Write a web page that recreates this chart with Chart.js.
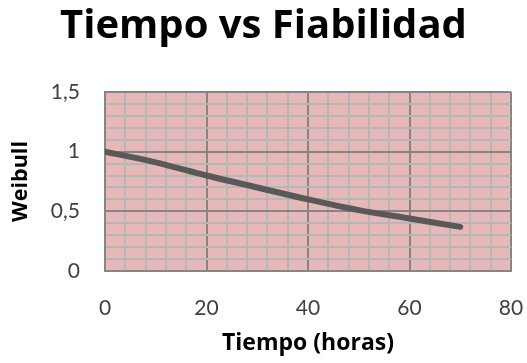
<!DOCTYPE html>
<html>
<head>
<meta charset="utf-8">
<script src="https://cdn.jsdelivr.net/npm/chart.js@4/dist/chart.umd.min.js"></script>
<style>
  html, body { margin: 0; padding: 0; background: #ffffff; }
  #wrap { width: 527px; height: 363px; }
</style>
</head>
<body>
<div id="wrap"><canvas id="c" width="527" height="363"></canvas></div>
<script>
// Tiempo (horas) vs fiabilidad Weibull
const tiempo  = [0, 10, 20, 30, 40, 50, 60, 70];
const weibull = [1.00, 0.91, 0.80, 0.70, 0.60, 0.51, 0.44, 0.37];
const xTicks  = [0, 20, 40, 60, 80];
const yTicks  = [0, 0.5, 1, 1.5];

const TICK_FONT = 'Lato, "Open Sans", sans-serif';
const BOLD_FONT = '"Open Sans", Lato, sans-serif';
const MAJOR = '#858585';
const MINOR = '#b6b6b6';

const isMajor = (v, list) => list.some(t => Math.abs(t - v) < 1e-6);

// pink plot area fill
const plotBg = {
  id: 'plotBg',
  beforeDraw(chart) {
    const { ctx, chartArea: a } = chart;
    ctx.save();
    ctx.fillStyle = '#e6b8b7';
    ctx.fillRect(a.left, a.top, a.right - a.left, a.bottom - a.top);
    ctx.restore();
  }
};

new Chart(document.getElementById('c'), {
  type: 'line',
  data: {
    datasets: [{
      data: tiempo.map((t, i) => ({ x: t, y: weibull[i] })),
      borderColor: '#595959',
      borderWidth: 6,
      borderCapStyle: 'round',
      borderJoinStyle: 'round',
      cubicInterpolationMode: 'monotone',
      pointRadius: 0,
      fill: false
    }]
  },
  options: {
    responsive: false,
    animation: false,
    layout: { padding: { left: 0, right: 0, top: 0, bottom: 0 } },
    plugins: {
      legend: { display: false },
      tooltip: { enabled: false },
      title: {
        display: true,
        text: 'Tiempo vs Fiabilidad',
        color: '#000000',
        font: { family: BOLD_FONT, size: 40, weight: 'bold', lineHeight: 1.2 },
        padding: { top: 3, bottom: 41 }
      }
    },
    scales: {
      x: {
        type: 'linear',
        min: 0, max: 80,
        afterBuildTicks(scale) {
          const t = [];
          for (let v = 0; v <= 80; v += 4) t.push({ value: v });
          scale.ticks = t;
        },
        afterFit(scale) {
          scale.height = 92;
          scale.paddingLeft = 0;
          scale.paddingRight = 16;
        },
        ticks: {
          autoSkip: false,
          maxRotation: 0,
          padding: 25,
          color: '#404040',
          font: { family: TICK_FONT, size: 21 },
          callback: v => isMajor(v, xTicks) ? String(v) : ''
        },
        grid: {
          drawTicks: false,
          color: c => isMajor(c.tick.value, xTicks) ? MAJOR : MINOR,
          lineWidth: 2
        },
        border: { display: true, color: MAJOR, width: 2 },
        title: {
          display: true,
          text: 'Tiempo (horas)',
          color: '#000000',
          font: { family: BOLD_FONT, size: 23, weight: 'bold', lineHeight: 1.2 },
          padding: { top: 0, bottom: 6 }
        }
      },
      y: {
        type: 'linear',
        min: 0, max: 1.5,
        afterBuildTicks(scale) {
          const t = [];
          for (let i = 0; i <= 15; i++) t.push({ value: i / 10 });
          scale.ticks = t;
        },
        afterFit(scale) { scale.width = 105; },
        ticks: {
          autoSkip: false,
          padding: 25,
          color: '#404040',
          font: { family: TICK_FONT, size: 21 },
          callback: v => isMajor(v, yTicks) ? String(v).replace('.', ',') : ''
        },
        grid: {
          drawTicks: false,
          color: c => isMajor(c.tick.value, yTicks) ? MAJOR : MINOR,
          lineWidth: 2
        },
        border: { display: true, color: MAJOR, width: 2 },
        title: {
          display: true,
          text: 'Weibull',
          color: '#000000',
          font: { family: BOLD_FONT, size: 21.5, weight: 'bold', lineHeight: 1.2 },
          padding: { top: 8, bottom: 0 }
        }
      }
    }
  },
  plugins: [plotBg]
});
</script>
</body>
</html>
